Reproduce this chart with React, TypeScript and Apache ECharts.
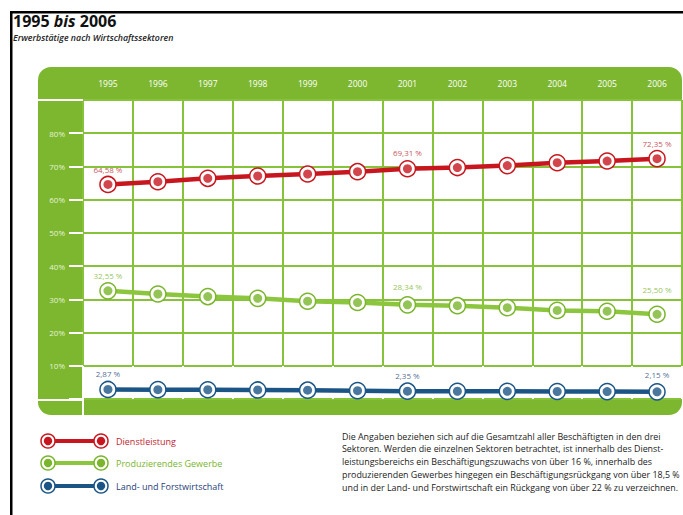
import React, { useEffect, useRef } from 'react';
import * as echarts from 'echarts';

const years = ['1995', '1996', '1997', '1998', '1999', '2000', '2001', '2002', '2003', '2004', '2005', '2006'];
const dienstleistung = [64.58, 65.4, 66.42, 67.12, 67.73, 68.43, 69.31, 69.67, 70.25, 71.12, 71.63, 72.35];
const produzierend = [32.55, 31.6, 30.83, 30.29, 29.43, 29.04, 28.34, 28.09, 27.5, 26.67, 26.42, 25.5];
const landForst = [2.87, 2.82, 2.78, 2.72, 2.65, 2.52, 2.35, 2.33, 2.3, 2.26, 2.22, 2.15];
const labelledIdx = [0, 6, 11];
const seriesNames = ['Dienstleistung', 'Produzierendes Gewerbe', 'Land- und Forstwirtschaft'];
const titleParts = ['1995', 'bis', '2006'];
const noteLines = [
  'Die Angaben beziehen sich auf die Gesamtzahl aller Beschäftigten in den drei',
  'Sektoren. Werden die einzelnen Sektoren betrachtet, ist innerhalb des Dienst-',
  'leistungsbereichs ein Beschäftigungszuwachs von über 16 %, innerhalb des',
  'produzierenden Gewerbes hingegen ein Beschäftigungsrückgang von über 18,5 %',
  'und in der Land- und Forstwirtschaft ein Rückgang von über 22 % zu verzeichnen.',
];

const RED = '#c8161f';
const GREEN_LINE = '#8cc63e';
const BLUE = '#1b5585';
const PANEL = '#7cb72f';
const GRIDC = '#86c23a';
const FONT = "'Open Sans', 'Lato', sans-serif";

const fmt = (v: number) => v.toFixed(2).replace('.', ',') + ' %';

function mkSeries(name: string, data: number[], color: string, lineColor: string, labelColor: string, distances: number[]) {
  return [
    {
      type: 'line',
      name,
      data,
      z: 3,
      symbol: 'circle',
      symbolSize: 16,
      lineStyle: { color: lineColor, width: 4.5 },
      itemStyle: { color: '#ffffff', borderColor: color, borderWidth: 1.5 },
      emphasis: { disabled: true },
    },
    {
      type: 'scatter',
      name,
      data: data.map((v, i) => {
        const k = labelledIdx.indexOf(i);
        return k >= 0 ? { value: v, label: { distance: distances[k] } } : v;
      }),
      z: 4,
      symbolSize: 9,
      itemStyle: { color },
      emphasis: { disabled: true },
      label: {
        show: true,
        position: 'top',
        distance: 7,
        fontSize: 8,
        fontFamily: FONT,
        color: labelColor,
        formatter: (p: any) => (labelledIdx.includes(p.dataIndex) ? fmt(p.value) : ''),
      },
    },
  ];
}

function legendItem(y: number, color: string, lineColor: string, textColor: string, text: string) {
  const ring = (x: number) => [
    { type: 'circle', z: 50, shape: { cx: x, cy: y, r: 7 }, style: { fill: '#fff', stroke: color, lineWidth: 1.5 } },
    { type: 'circle', z: 51, shape: { cx: x, cy: y, r: 4.2 }, style: { fill: color } },
  ];
  return [
    { type: 'line', z: 49, shape: { x1: 48, y1: y, x2: 101, y2: y }, style: { stroke: lineColor, lineWidth: 4 } },
    ...ring(48),
    ...ring(101),
    { type: 'text', z: 50, x: 116, y, style: { text, fill: textColor, font: `9px ${FONT}`, verticalAlign: 'middle' } },
  ];
}

export default function App() {
  const ref = useRef<HTMLDivElement>(null);
  useEffect(() => {
    const chart = echarts.init(ref.current!, null, { renderer: 'svg' });

    // title pieces laid out side by side
    const fonts = [`bold 16px ${FONT}`, `italic bold 16px ${FONT}`, `bold 16px ${FONT}`];
    const ctx = document.createElement('canvas').getContext('2d')!;
    ctx.font = fonts[0];
    const gap = ctx.measureText(' ').width;
    let tx = 13;
    const titleEls: any[] = titleParts.map((t, i) => {
      ctx.font = fonts[i];
      const w = ctx.measureText(t).width;
      const el = {
        type: 'text', z: 60, x: tx, y: 28.5,
        style: { text: t, font: fonts[i], fill: '#111111', verticalAlign: 'bottom', lineHeight: 16 },
      };
      tx += w + gap;
      return el;
    });

    const option: any = {
      animation: false,
      backgroundColor: '#ffffff',
      grid: { left: 83, right: 1, top: 100, bottom: 116 },
      xAxis: {
        type: 'category',
        data: years,
        position: 'top',
        boundaryGap: true,
        axisLine: { show: false },
        axisTick: { show: true, length: 33, lineStyle: { color: '#ffffff', width: 2 } },
        axisLabel: { color: '#ffffff', fontSize: 8.5, fontFamily: FONT, margin: 12 },
        splitLine: { show: true, interval: 0, lineStyle: { color: GRIDC, width: 2 } },
      },
      yAxis: {
        type: 'value',
        min: 0,
        max: 90,
        interval: 10,
        axisLine: { show: false },
        axisTick: { show: true, length: 14, lineStyle: { color: '#ffffff', width: 2 } },
        axisLabel: {
          color: '#e6f2d6',
          fontSize: 8,
          fontFamily: FONT,
          margin: 18,
          formatter: (v: number) => (v > 0 && v < 90 ? v + '%' : ''),
        },
        splitLine: { show: true, lineStyle: { color: GRIDC, width: 2 } },
      },
      series: [
        ...mkSeries(seriesNames[0], dienstleistung, RED, RED, '#b8242c', [6, 8, 7]),
        ...mkSeries(seriesNames[1], produzierend, '#7ab52c', GREEN_LINE, '#7ab52c', [7, 10, 16]),
        ...mkSeries(seriesNames[2], landForst, BLUE, BLUE, '#23437a', [7, 7, 9]),
      ],
      graphic: [
        // panel background
        { type: 'rect', z: -10, shape: { x: 38, y: 67, width: 644, height: 348, r: 13 }, style: { fill: PANEL } },
        { type: 'rect', z: -9, shape: { x: 84, y: 101, width: 598, height: 298 }, style: { fill: '#ffffff' } },
        // left column separators
        { type: 'rect', z: 40, shape: { x: 38, y: 99, width: 45, height: 2 }, style: { fill: '#ffffff' } },
        { type: 'rect', z: 40, shape: { x: 38, y: 399, width: 45, height: 2 }, style: { fill: '#ffffff' } },
        { type: 'rect', z: 40, shape: { x: 82, y: 399, width: 2, height: 16 }, style: { fill: '#ffffff' } },
        // frame
        { type: 'rect', z: 60, shape: { x: 10, y: 11, width: 673, height: 2.5 }, style: { fill: '#000000' } },
        { type: 'rect', z: 60, shape: { x: 10, y: 11, width: 2.5, height: 504 }, style: { fill: '#000000' } },
        // title
        ...titleEls,
        {
          type: 'text', z: 60, x: 13, y: 33.5,
          style: {
            text: 'Erwerbstätige nach Wirtschaftssektoren', fill: '#222222',
            font: `italic 600 8.8px ${FONT}`, verticalAlign: 'top', lineHeight: 9,
          },
        },
        // legend
        ...legendItem(441, RED, RED, '#c0242e', seriesNames[0]),
        ...legendItem(463, '#7ab52c', GREEN_LINE, '#7ab52c', seriesNames[1]),
        ...legendItem(486, BLUE, BLUE, '#26407a', seriesNames[2]),
        // note text
        ...noteLines.map((t, i) => ({
          type: 'text', z: 60, x: 342, y: 436 + i * 12.8,
          style: { text: t, fill: '#222222', font: `8.9px ${FONT}`, verticalAlign: 'middle' },
        })),
      ],
    };
    chart.setOption(option);
    return () => chart.dispose();
  }, []);
  return <div ref={ref} style={{ position: 'absolute', left: 0, top: 0, width: 683, height: 515 }} />;
}
